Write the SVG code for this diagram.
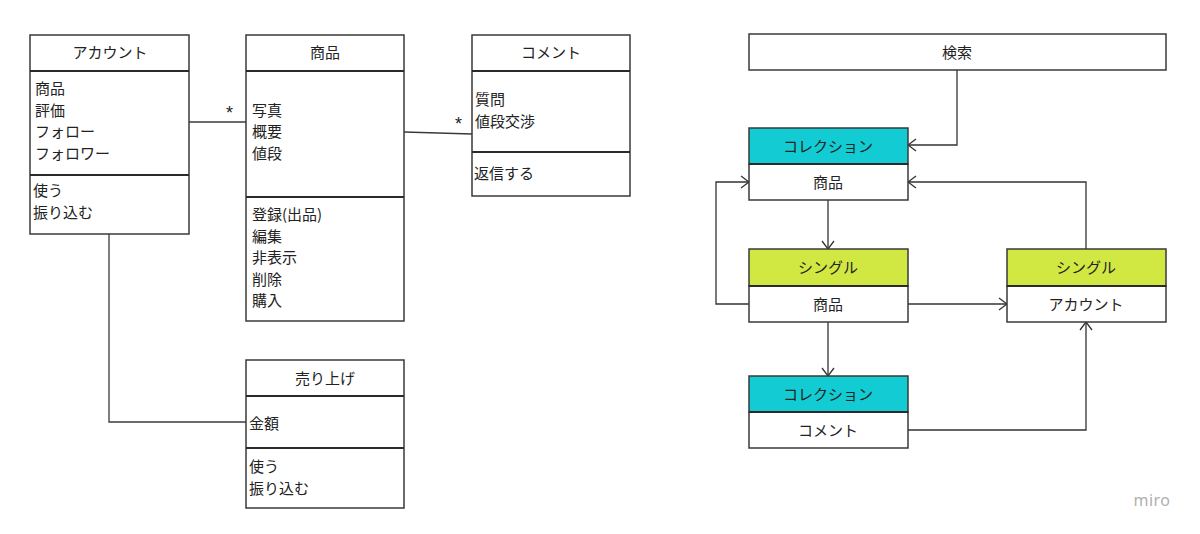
<svg xmlns="http://www.w3.org/2000/svg" width="1200" height="534" viewBox="0 0 1200 534">
<defs>
<style>
.box{fill:#fff;stroke:#3a3a3a;stroke-width:1.5}
.div{stroke:#2a2a2a;stroke-width:2}
.t{font-family:"Noto Sans CJK JP","Noto Sans",sans-serif;font-size:15px;fill:#222}
.c{text-anchor:middle}
.st{font-family:"Liberation Sans",sans-serif;font-size:18px;fill:#222}
.ln{fill:none;stroke:#3a3a3a;stroke-width:1.3}
.ar{fill:none;stroke:#333;stroke-width:1.3;marker-end:url(#open)}
.cy{fill:#13cbd3;stroke:#3a3a3a;stroke-width:1.5}
.li{fill:#d2e842;stroke:#3a3a3a;stroke-width:1.5}
</style>
<marker id="open" viewBox="0 0 10 14" refX="9" refY="7" markerWidth="10" markerHeight="14" markerUnits="userSpaceOnUse" orient="auto">
<path d="M1,1 L9,7 L1,13" fill="none" stroke="#333" stroke-width="1.3"/>
</marker>
</defs>
<rect width="1200" height="534" fill="#fff"/>

<g id="connectors">
<line class="ln" x1="189" y1="122" x2="246" y2="122"/>
<text class="st" x="226" y="119">*</text>
<polyline class="ln" points="404,132 472,134"/>
<text class="st" x="455" y="130">*</text>
<polyline class="ln" points="109,234 109,422 246,422"/>
<polyline class="ar" points="957,70 957,145 908,145"/>
<polyline class="ar" points="749,304 716,304 716,182 749,182"/>
<polyline class="ar" points="1086,249 1086,182 908,182"/>
<line class="ar" x1="828" y1="200" x2="828" y2="249"/>
<line class="ar" x1="908" y1="304" x2="1007" y2="304"/>
<line class="ar" x1="828" y1="322" x2="828" y2="376"/>
<polyline class="ar" points="908,430 1086,430 1086,322"/>
</g>

<g id="account">
<rect class="box" x="30" y="35" width="159" height="199"/>
<line class="div" x1="30" y1="71" x2="189" y2="71"/>
<line class="div" x1="30" y1="175" x2="189" y2="175"/>
<text class="t c" x="110" y="58">アカウント</text>
<text class="t" x="35" y="94">商品</text>
<text class="t" x="35" y="116">評価</text>
<text class="t" x="35" y="137">フォロー</text>
<text class="t" x="35" y="159">フォロワー</text>
<text class="t" x="33" y="196">使う</text>
<text class="t" x="33" y="218">振り込む</text>
</g>

<g id="product">
<rect class="box" x="246" y="35" width="158" height="286"/>
<line class="div" x1="246" y1="71" x2="404" y2="71"/>
<line class="div" x1="246" y1="197" x2="404" y2="197"/>
<text class="t c" x="325" y="58">商品</text>
<text class="t" x="252" y="116">写真</text>
<text class="t" x="252" y="137">概要</text>
<text class="t" x="252" y="159">値段</text>
<text class="t" x="252" y="220">登録(出品)</text>
<text class="t" x="252" y="242">編集</text>
<text class="t" x="252" y="263">非表示</text>
<text class="t" x="252" y="285">削除</text>
<text class="t" x="252" y="306">購入</text>
</g>

<g id="comment">
<rect class="box" x="472" y="35" width="158" height="161"/>
<line class="div" x1="472" y1="71" x2="630" y2="71"/>
<line class="div" x1="472" y1="152" x2="630" y2="152"/>
<text class="t c" x="551" y="58">コメント</text>
<text class="t" x="475" y="105">質問</text>
<text class="t" x="475" y="127">値段交渉</text>
<text class="t" x="474" y="179">返信する</text>
</g>

<g id="sales">
<rect class="box" x="246" y="360" width="158" height="148"/>
<line class="div" x1="246" y1="396" x2="404" y2="396"/>
<line class="div" x1="246" y1="448" x2="404" y2="448"/>
<text class="t c" x="325" y="384">売り上げ</text>
<text class="t" x="249" y="429">金額</text>
<text class="t" x="249" y="472">使う</text>
<text class="t" x="249" y="494">振り込む</text>
</g>

<g id="search">
<rect class="box" x="749" y="34" width="417" height="36"/>
<text class="t c" x="957" y="58">検索</text>
</g>

<g id="collection-product">
<rect class="cy" x="749" y="128" width="159" height="36"/>
<rect class="box" x="749" y="164" width="159" height="36"/>
<line class="div" x1="749" y1="164" x2="908" y2="164"/>
<text class="t c" x="828" y="152">コレクション</text>
<text class="t c" x="828" y="188">商品</text>
</g>

<g id="single-product">
<rect class="li" x="749" y="249" width="159" height="37"/>
<rect class="box" x="749" y="286" width="159" height="36"/>
<line class="div" x1="749" y1="286" x2="908" y2="286"/>
<text class="t c" x="828" y="273">シングル</text>
<text class="t c" x="828" y="310">商品</text>
</g>

<g id="single-account">
<rect class="li" x="1007" y="249" width="159" height="37"/>
<rect class="box" x="1007" y="286" width="159" height="36"/>
<line class="div" x1="1007" y1="286" x2="1166" y2="286"/>
<text class="t c" x="1086" y="273">シングル</text>
<text class="t c" x="1086" y="310">アカウント</text>
</g>

<g id="collection-comment">
<rect class="cy" x="749" y="376" width="159" height="36"/>
<rect class="box" x="749" y="412" width="159" height="36"/>
<line class="div" x1="749" y1="412" x2="908" y2="412"/>
<text class="t c" x="828" y="400">コレクション</text>
<text class="t c" x="828" y="436">コメント</text>
</g>

<text x="1152" y="506" style="font-family:'Noto Sans',sans-serif;font-size:16px;fill:#b0b0b0;text-anchor:middle;letter-spacing:0.5px">miro</text>
</svg>
